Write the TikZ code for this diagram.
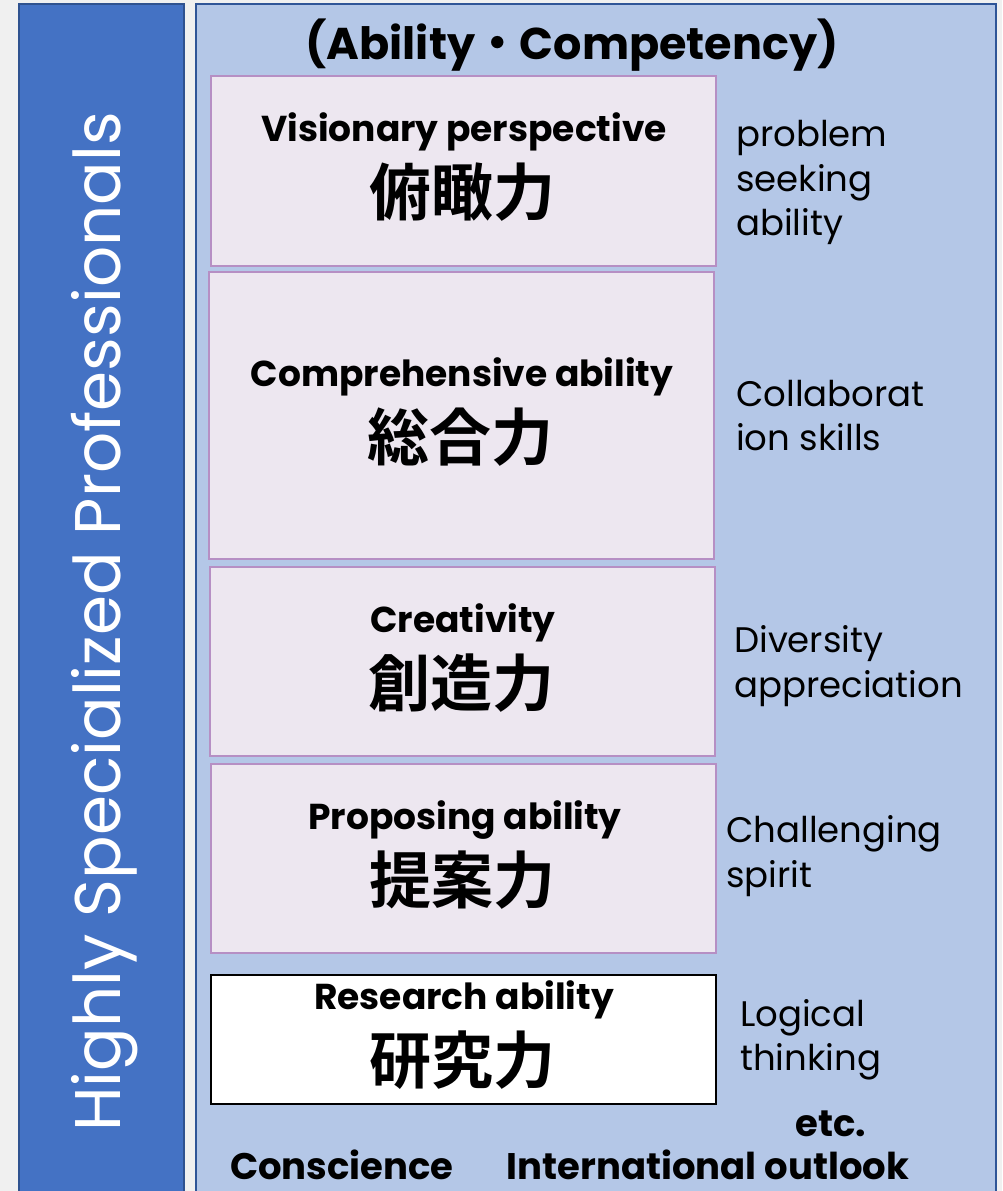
\documentclass[tikz,border=0pt]{standalone}
\usepackage{fontspec}
\setmainfont{Poppins}
\newfontfamily\jp{Noto Sans CJK JP Bold}
\definecolor{bgc}{HTML}{F0F0F0}
\definecolor{barfill}{HTML}{4472C4}
\definecolor{barline}{HTML}{2F528F}
\definecolor{panelfill}{HTML}{B4C7E7}
\definecolor{panelline}{HTML}{2F5597}
\definecolor{boxfill}{HTML}{EDE7F0}
\definecolor{boxline}{HTML}{B68FC4}
\tikzset{
  abox/.style={draw=boxline, line width=2pt, fill=boxfill},
  rbox/.style={draw=black, line width=2.6pt, fill=white},
  entext/.style={font=\bfseries\fontsize{36}{40}\selectfont, inner sep=0pt},
  jptext/.style={font=\jp\fontsize{62}{66}\selectfont, inner sep=0pt},
  side/.style={font=\fontsize{35.5}{40}\selectfont, anchor=base west, inner sep=0pt},
  foot/.style={font=\bfseries\fontsize{37}{40}\selectfont, inner sep=0pt, anchor=base}
}
\begin{document}
\begin{tikzpicture}[x=1pt,y=-1pt]
\useasboundingbox (0,0) rectangle (1002,1191);
\fill[bgc] (0,0) rectangle (1002,1191);
% left bar
\draw[draw=barline, line width=1.5pt, fill=barfill] (19,4) rectangle (184,1195);
\node[rotate=90, anchor=base, text=white, font=\fontsize{64.5}{70}\selectfont, inner sep=0pt] (title) at (120,622) {Highly Specialized Professionals};
% right panel
\draw[draw=panelline, line width=1.5pt, fill=panelfill] (196,4) rectangle (996,1195);
\node[font=\bfseries\fontsize{44.5}{48}\selectfont, inner sep=0pt] (head) at (572,45) {(Ability{\jp ・}Competency)};
% boxes
\draw[abox] (211,76) rectangle (716,266);
\draw[abox] (209,272) rectangle (714,559);
\draw[abox] (210,567) rectangle (715,756);
\draw[abox] (211,764) rectangle (716,953);
\draw[rbox] (211,975) rectangle (716,1104);
\node[entext] (e1) at (464,132) {Visionary perspective};
\node[jptext] (j1) at (462,192) {俯瞰力};
\node[entext] (e2) at (462,377) {Comprehensive ability};
\node[jptext] (j2) at (460,437) {総合力};
\node[entext] (e3) at (463,623) {Creativity};
\node[jptext] (j3) at (461,683) {創造力};
\node[entext] (e4) at (465,820) {Proposing ability};
\node[jptext] (j4) at (462,880) {提案力};
\node[entext] (e5) at (464,1000) {Research ability};
\node[jptext] (j5) at (462,1060) {研究力};
% side labels
\node[side] (s1a) at (736,146) {problem};
\node[side] (s1b) at (736,191) {seeking};
\node[side] (s1c) at (736,235) {ability};
\node[side] (s2a) at (736,406) {Collaborat};
\node[side] (s2b) at (736,450) {ion skills};
\node[side] (s3a) at (734,652) {Diversity};
\node[side] (s3b) at (734,697) {appreciation};
\node[side] (s4a) at (726,842) {Challenging};
\node[side] (s4b) at (726,887) {spirit};
\node[side] (s5a) at (740,1026) {Logical};
\node[side] (s5b) at (740,1070) {thinking};
% footer
\node[foot] (etc) at (831,1136) {etc.};
\node[foot] (c1) at (342,1179) {Conscience};
\node[foot] (c2) at (708,1179) {International outlook};
\end{tikzpicture}
\end{document}
